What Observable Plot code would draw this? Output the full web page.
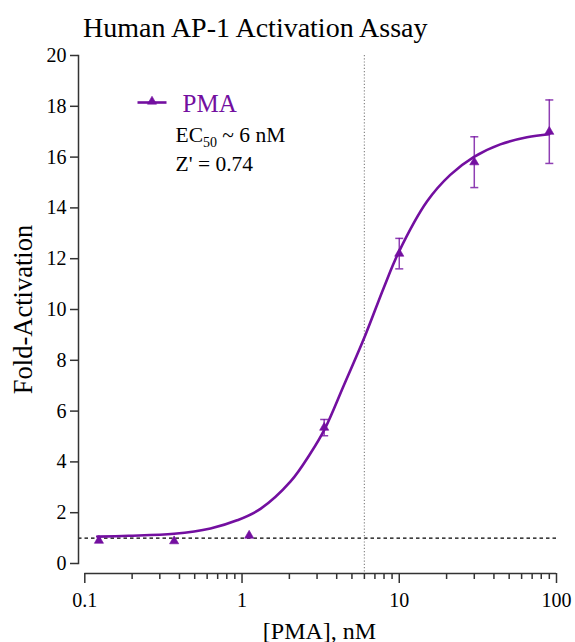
<!DOCTYPE html>
<html><head><meta charset="utf-8">
<script src="https://cdn.jsdelivr.net/npm/d3@7"></script>
<script src="https://cdn.jsdelivr.net/npm/@observablehq/plot@0.6"></script>
<style>
body{margin:0;background:#fff;}
#title{height:44px;position:relative;}
#title span{position:absolute;left:83px;top:13.5px;font-family:"Liberation Serif","Times New Roman",serif;font-size:28px;line-height:28px;color:#000;white-space:nowrap;}
#chart svg text{font-family:"Liberation Serif","Times New Roman",serif;}
</style></head><body>
<div id="title"><span></span></div>
<div id="chart"></div>
<script>
const chartTitle = "Human AP-1 Activation Assay";
const seriesName = "PMA";
const xLabel = "[PMA], nM";
const yLabel = "Fold-Activation";
const concentrations = [0.123, 0.37, 1.11, 3.33, 10, 30, 90];
const foldActivation = [0.9, 0.88, 1.1, 5.35, 12.2, 15.8, 17.0];
const errors = [0, 0, 0, 0.32, 0.6, 1.0, 1.25];
const fitX = [0.12, 0.19, 0.37, 0.63, 0.93, 1.31, 2.03, 2.72, 3.36, 4.43, 6.09, 7.96, 9.91, 15.0, 21.1, 29.7, 43.9, 64.9, 90];
const fitY = [1.06, 1.09, 1.17, 1.38, 1.70, 2.15, 3.22, 4.33, 5.3, 7.0, 9.0, 10.85, 12.25, 14.25, 15.3, 16.0, 16.5, 16.78, 16.9];
const ec50 = 6;
const baselineLevel = 1;
const yTicks = [0, 2, 4, 6, 8, 10, 12, 14, 16, 18, 20];
const xMajorTicks = [0.1, 1, 10, 100];
const xMajorLabels = ["0.1", "1", "10", "100"];
const xMinorTicks = [0.2, 0.3, 0.4, 0.5, 0.6, 0.7, 0.8, 0.9, 2, 3, 4, 5, 6, 7, 8, 9, 20, 30, 40, 50, 60, 70, 80, 90];
const annotations = ["EC50 ~ 6 nM", "Z' = 0.74"];

document.querySelector("#title span").textContent = chartTitle;

const serif = '"Liberation Serif", "Times New Roman", serif';
const purple = "#730fa0";
const axisColor = "#333";
const points = concentrations.map((x, i) => ({x, y: foldActivation[i], e: errors[i]}));
const bars = points.filter(d => d.e > 0);
const fit = fitX.map((x, i) => ({x, y: fitY[i]}));
const hline = {draw(ctx, size) { const r = Math.sqrt(size / Math.PI); ctx.moveTo(-r, 0); ctx.lineTo(r, 0); }};

const chart = Plot.plot({
  width: 575, height: 598,
  marginTop: 11, marginBottom: 79, marginLeft: 78, marginRight: 19,
  style: {fontFamily: serif, fontSize: "20px", background: "white", color: "#000"},
  x: {type: "log", domain: [0.1, 100], insetLeft: 6.3, label: null},
  y: {domain: [0, 20], label: null},
  marks: [
    Plot.ruleY([baselineLevel], {stroke: "#000", strokeDasharray: "3.5,3", strokeWidth: 1.3}),
    Plot.ruleX([ec50], {stroke: "#8a8a8a", strokeDasharray: "1.2,2", strokeWidth: 1.2, insetBottom: -10}),
    Plot.frame({anchor: "left", stroke: axisColor, strokeWidth: 1.5}),
    Plot.ruleY([0], {x1: xMajorTicks[0], x2: xMajorTicks[xMajorTicks.length - 1], dy: 10, stroke: axisColor, strokeWidth: 1.5}),
    Plot.axisY({ticks: yTicks, tickSize: 8, tickPadding: 4, stroke: axisColor, strokeWidth: 1.5, fontSize: 20, fontFamily: serif, label: null}),
    Plot.axisX({ticks: xMajorTicks, tickFormat: d => xMajorLabels[xMajorTicks.indexOf(d)], tickSize: 10, tickPadding: 9, dy: 10, stroke: axisColor, strokeWidth: 1.5, fontSize: 20, fontFamily: serif, label: null}),
    Plot.axisX({ticks: xMinorTicks, tickFormat: () => "", tickSize: 6, dy: 10, stroke: axisColor, strokeWidth: 1.5, label: null}),
    Plot.line(fit, {x: "x", y: "y", curve: "catmull-rom", stroke: purple, strokeWidth: 2.6}),
    Plot.ruleX(bars, {x: "x", y1: d => d.y - d.e, y2: d => d.y + d.e, stroke: purple, strokeOpacity: 0.8, strokeWidth: 1.5}),
    Plot.dot(bars, {x: "x", y: d => d.y + d.e, symbol: hline, r: 4, stroke: purple, strokeOpacity: 0.8, strokeWidth: 1.5}),
    Plot.dot(bars, {x: "x", y: d => d.y - d.e, symbol: hline, r: 4, stroke: purple, strokeOpacity: 0.8, strokeWidth: 1.5}),
    Plot.dot(points, {x: "x", y: "y", symbol: "triangle", r: 3.4, fill: purple, stroke: purple, strokeWidth: 0.6}),
    // legend
    Plot.dot([seriesName], {frameAnchor: "top-left", dx: 73.5, dy: 47, symbol: hline, r: 14.5, stroke: purple, strokeWidth: 2.6}),
    Plot.dot([seriesName], {frameAnchor: "top-left", dx: 73.5, dy: 46, symbol: "triangle", r: 3.4, fill: purple, stroke: purple, strokeWidth: 0.6}),
    Plot.text([seriesName], {text: d => d, frameAnchor: "top-left", dx: 104, dy: 56, lineAnchor: "bottom", textAnchor: "start", fontSize: 25, fontFamily: serif, fill: purple}),
    Plot.text([annotations[0]], {text: d => d, frameAnchor: "top-left", dx: 97, dy: 86, lineAnchor: "bottom", textAnchor: "start", fontSize: 21.5, fontFamily: serif}),
    Plot.text([annotations[1]], {text: d => d, frameAnchor: "top-left", dx: 97, dy: 115, lineAnchor: "bottom", textAnchor: "start", fontSize: 21.5, fontFamily: serif}),
    // axis labels
    Plot.text([yLabel], {text: d => d, frameAnchor: "left", dx: -47, rotate: -90, lineAnchor: "bottom", textAnchor: "middle", fontSize: 26.5, fontFamily: serif}),
    Plot.text([xLabel], {text: d => d, frameAnchor: "bottom", dx: 2, dy: 75, lineAnchor: "bottom", textAnchor: "middle", fontSize: 24, fontFamily: serif})
  ]
});
document.getElementById("chart").appendChild(chart);

d3.select(chart).selectAll("text").filter(function() { return this.textContent === annotations[0]; })
  .each(function() {
    const t = d3.select(this);
    t.text(null);
    t.append("tspan").text("EC");
    t.append("tspan").attr("font-size", "14px").attr("dy", "5").text("50");
    t.append("tspan").attr("dy", "-5").text(" ~ 6 nM");
  });
</script>
</body></html>
